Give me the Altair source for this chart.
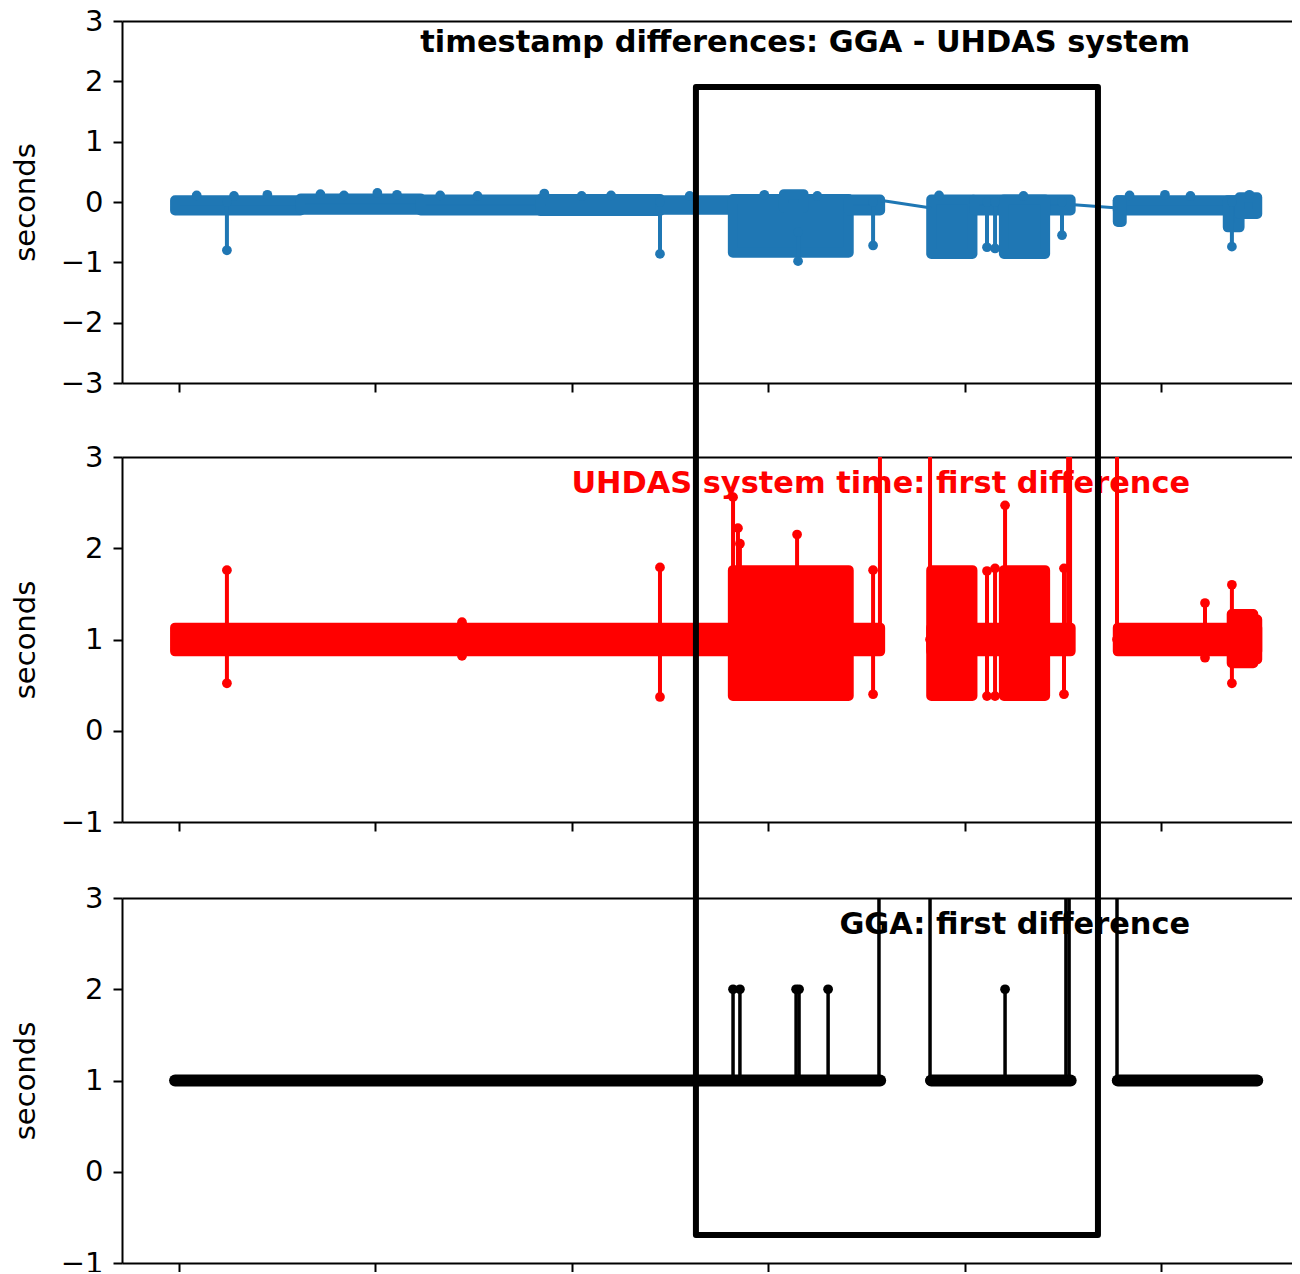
import altair as alt
import pandas as pd

BLUE = "#1f77b4"
RED = "#ff0000"
BLACK = "#000000"
FONT = "DejaVu Sans"

# ---------------- data (x in tick units, ticks at 0..5; y in seconds) ----------------
X_DOMAIN = [-0.2902, 5.667]
X_TICKS = [0, 1, 2, 3, 4, 5]

# Panel 1: timestamp differences GGA - UHDAS (dense regions as envelopes)
p1_x0 = [-0.02, 0.62, 1.23, 1.84, 2.45, 2.82, 3.08, 3.41, 3.83, 4.05, 4.20, 4.78, 4.78, 5.34, 5.40]
p1_x1 = [0.62, 1.23, 1.84, 2.45, 2.82, 3.41, 3.18, 3.57, 4.04, 4.54, 4.41, 5.40, 4.80, 5.40, 5.49]
p1_lo = [-0.14, -0.13, -0.14, -0.15, -0.13, -0.84, -0.10, -0.14, -0.86, -0.14, -0.86, -0.14, -0.33, -0.42, -0.20]
p1_hi = [0.03, 0.06, 0.04, 0.05, 0.03, 0.05, 0.13, 0.04, 0.04, 0.04, 0.04, 0.03, 0.03, 0.03, 0.08]

# isolated points sticking out of the panel-1 band
p1_bx = [0.09, 0.28, 0.45, 0.72, 0.84, 1.01, 1.11, 1.33, 1.52, 1.86, 2.05, 2.20, 2.60, 2.98, 3.25,
         3.87, 4.30, 4.84, 5.02, 5.15, 5.45]
p1_by = [0.11, 0.10, 0.12, 0.13, 0.11, 0.15, 0.12, 0.11, 0.10, 0.14, 0.10, 0.11, 0.10, 0.12, 0.10,
         0.11, 0.10, 0.11, 0.12, 0.10, 0.12]

p1_sx = [0.244, 2.449, 3.152, 3.534, 4.114, 4.155, 4.496, 5.361]
p1_slo = [-0.80, -0.86, -0.98, -0.72, -0.75, -0.77, -0.55, -0.74]
p1_shi = [0.0, 0.0, -0.50, 0.0, 0.0, 0.0, 0.0, 0.0]

p1_gx0 = [3.57, 4.54]
p1_gx1 = [3.83, 4.78]
p1_gy0 = [0.03, -0.04]
p1_gy1 = [-0.10, -0.10]

# Panel 2: UHDAS system time first difference
p2_x0 = [-0.02, 2.82, 3.83, 3.83, 4.20, 4.78, 5.36, 5.40]
p2_x1 = [3.57, 3.41, 4.04, 4.54, 4.41, 5.49, 5.47, 5.49]
p2_lo = [0.87, 0.38, 0.38, 0.87, 0.38, 0.87, 0.74, 0.78]
p2_hi = [1.13, 1.76, 1.76, 1.13, 1.76, 1.13, 1.28, 1.22]

p2_sx = [0.244, 1.441, 2.449, 2.821, 2.846, 2.856, 3.147, 3.534, 3.569, 3.824,
         4.114, 4.155, 4.206, 4.506, 4.527, 4.537, 4.776, 5.224, 5.361]
p2_slo = [0.52, 0.82, 0.37, 1.0, 1.0, 1.0, 1.0, 0.40, 1.0, 1.0,
          0.38, 0.38, 1.0, 0.40, 1.0, 1.0, 1.0, 0.80, 0.52]
p2_shi = [1.76, 1.19, 1.79, 2.56, 2.22, 2.05, 2.15, 1.76, 3.0, 3.0,
          1.75, 1.78, 2.47, 1.78, 3.0, 3.0, 3.0, 1.40, 1.60]

# Panel 3: GGA first difference
p3_bx0 = [-0.02, 3.83, 4.78]
p3_bx1 = [3.57, 4.54, 5.49]
p3_base = [1.0, 1.0, 1.0]

p3_sx = [2.821, 2.856, 3.142, 3.157, 3.305, 3.564, 3.824, 4.206, 4.516, 4.532, 4.776]
p3_shi = [2.0, 2.0, 2.0, 2.0, 2.0, 3.0, 3.0, 2.0, 3.0, 3.0, 3.0]

titles = ["timestamp differences: GGA - UHDAS system",
          "UHDAS system time: first difference",
          "GGA: first difference"]
title_x = [5.148, 5.148, 5.148]
title_y = [2.49, 2.605, 2.605]

# highlight box (x in tick units, y in figure fraction)
box_x = [2.632, 4.679]
box_y = [0.0225, 0.9469]

# ---------------- layout ----------------
W, H = 1170, 1242
P1 = (362, 0)
P2 = (801, 436)
P3 = (1242, 877)

XS = alt.Scale(domain=X_DOMAIN, nice=False, zero=False)
S1 = alt.Scale(domain=[-3, 3], range=list(P1), nice=False, zero=False)
S2 = alt.Scale(domain=[-1, 3], range=list(P2), nice=False, zero=False)
S3 = alt.Scale(domain=[-1, 3], range=list(P3), nice=False, zero=False)
SF = alt.Scale(domain=[0, 1], range=[H, 0], nice=False, zero=False)


def y_axis(vals):
    return alt.Axis(values=vals, format="d", title="seconds", orient="left",
                    titleX=-88, titleBaseline="alphabetic", grid=False)


def bottom_axis(bottom_px):
    return alt.Axis(orient="bottom", offset=-(H - bottom_px), values=X_TICKS,
                    labels=False, ticks=True, domain=True, grid=False, title=None)


def top_axis(top_px):
    return alt.Axis(orient="top", offset=-top_px, labels=False, ticks=False,
                    domain=True, grid=False, title=None)


def blocks_layer(x0, x1, lo, hi, scale, color, yvals, bottom_px):
    df = pd.DataFrame({"x0": x0, "x1": x1, "lo": lo, "hi": hi})
    return alt.Chart(df).mark_rect(color=color, stroke=color, strokeWidth=10,
                                   strokeJoin="round").encode(
        x=alt.X("x0:Q", scale=XS, axis=bottom_axis(bottom_px)),
        x2="x1:Q",
        y=alt.Y("lo:Q", scale=scale, axis=y_axis(yvals)),
        y2="hi:Q",
    )


def spikes_layer(sx, slo, shi, scale, color, width=4):
    df = pd.DataFrame({"x": sx, "lo": slo, "hi": shi})
    return alt.Chart(df).mark_rule(color=color, strokeWidth=width).encode(
        x=alt.X("x:Q", scale=XS, axis=None),
        y=alt.Y("lo:Q", scale=scale, axis=None),
        y2="hi:Q",
    )


def points_layer(xs, ys, scale, color):
    df = pd.DataFrame({"x": xs, "y": ys})
    return alt.Chart(df).mark_circle(color=color, size=95, opacity=1).encode(
        x=alt.X("x:Q", scale=XS, axis=None),
        y=alt.Y("y:Q", scale=scale, axis=None),
    )


def dots_layer(sx, slo, shi, scale, color):
    xs, ys = [], []
    for x, a, b in zip(sx, slo, shi):
        for v in (a, b):
            if v < 2.99:
                xs.append(x)
                ys.append(v)
    return points_layer(xs, ys, scale, color)


def text_layer(i, scale, color, top_px):
    df = pd.DataFrame({"x": [title_x[i]], "y": [title_y[i]], "t": [titles[i]]})
    return alt.Chart(df).mark_text(align="right", baseline="alphabetic", font=FONT,
                                   fontSize=30.4, fontWeight="bold", color=color).encode(
        x=alt.X("x:Q", scale=XS, axis=top_axis(top_px)),
        y=alt.Y("y:Q", scale=scale, axis=None),
        text="t:N",
    )


# panel 1
l1 = [
    blocks_layer(p1_x0, p1_x1, p1_lo, p1_hi, S1, BLUE, [-3, -2, -1, 0, 1, 2, 3], P1[0]),
    points_layer(p1_bx, p1_by, S1, BLUE),
    spikes_layer(p1_sx, p1_slo, p1_shi, S1, BLUE),
    dots_layer(p1_sx, p1_slo, p1_shi, S1, BLUE),
    alt.Chart(pd.DataFrame({"x0": p1_gx0, "x1": p1_gx1, "y0": p1_gy0, "y1": p1_gy1}))
    .mark_rule(color=BLUE, strokeWidth=3).encode(
        x=alt.X("x0:Q", scale=XS, axis=None), x2="x1:Q",
        y=alt.Y("y0:Q", scale=S1, axis=None), y2="y1:Q"),
    text_layer(0, S1, BLACK, P1[1]),
]

# panel 2
l2 = [
    blocks_layer(p2_x0, p2_x1, p2_lo, p2_hi, S2, RED, [-1, 0, 1, 2, 3], P2[0]),
    spikes_layer(p2_sx, p2_slo, p2_shi, S2, RED),
    dots_layer(p2_sx, p2_slo, p2_shi, S2, RED),
    text_layer(1, S2, RED, P2[1]),
]

# panel 3
base_df = pd.DataFrame({"x0": p3_bx0, "x1": p3_bx1, "y": p3_base})
p3_lo = [1.0] * len(p3_sx)
l3 = [
    alt.Chart(base_df).mark_rule(color=BLACK, strokeWidth=12, strokeCap="round").encode(
        x=alt.X("x0:Q", scale=XS, axis=bottom_axis(P3[0])), x2="x1:Q",
        y=alt.Y("y:Q", scale=S3, axis=y_axis([-1, 0, 1, 2, 3]))),
    spikes_layer(p3_sx, p3_lo, p3_shi, S3, BLACK, width=3.5),
    dots_layer(p3_sx, p3_lo, p3_shi, S3, BLACK),
    text_layer(2, S3, BLACK, P3[1]),
]

box = alt.Chart(pd.DataFrame({"x0": [box_x[0]], "x1": [box_x[1]],
                              "y0": [box_y[0]], "y1": [box_y[1]]})).mark_rect(
    fillOpacity=0, stroke=BLACK, strokeWidth=6, strokeJoin="round").encode(
    x=alt.X("x0:Q", scale=XS, axis=None), x2="x1:Q",
    y=alt.Y("y0:Q", scale=SF, axis=None), y2="y1:Q")

chart = alt.layer(*l1, *l2, *l3, box).resolve_scale(
    y="independent").resolve_axis(x="independent", y="independent").properties(
    width=W, height=H,
    autosize=alt.AutoSizeParams(type="none"),
    padding={"left": 114, "top": 13, "right": 0, "bottom": 9},
    background="white",
).configure_view(strokeWidth=0).configure_axis(
    domainColor=BLACK, domainWidth=2, tickColor=BLACK, tickWidth=2, tickSize=9,
    labelColor=BLACK, labelFont=FONT, labelFontSize=29, labelPadding=10,
    titleColor=BLACK, titleFont=FONT, titleFontSize=29, titleFontWeight="normal",
    grid=False,
)

chart.save("out.html", embed_options={"renderer": "svg", "actions": False})
